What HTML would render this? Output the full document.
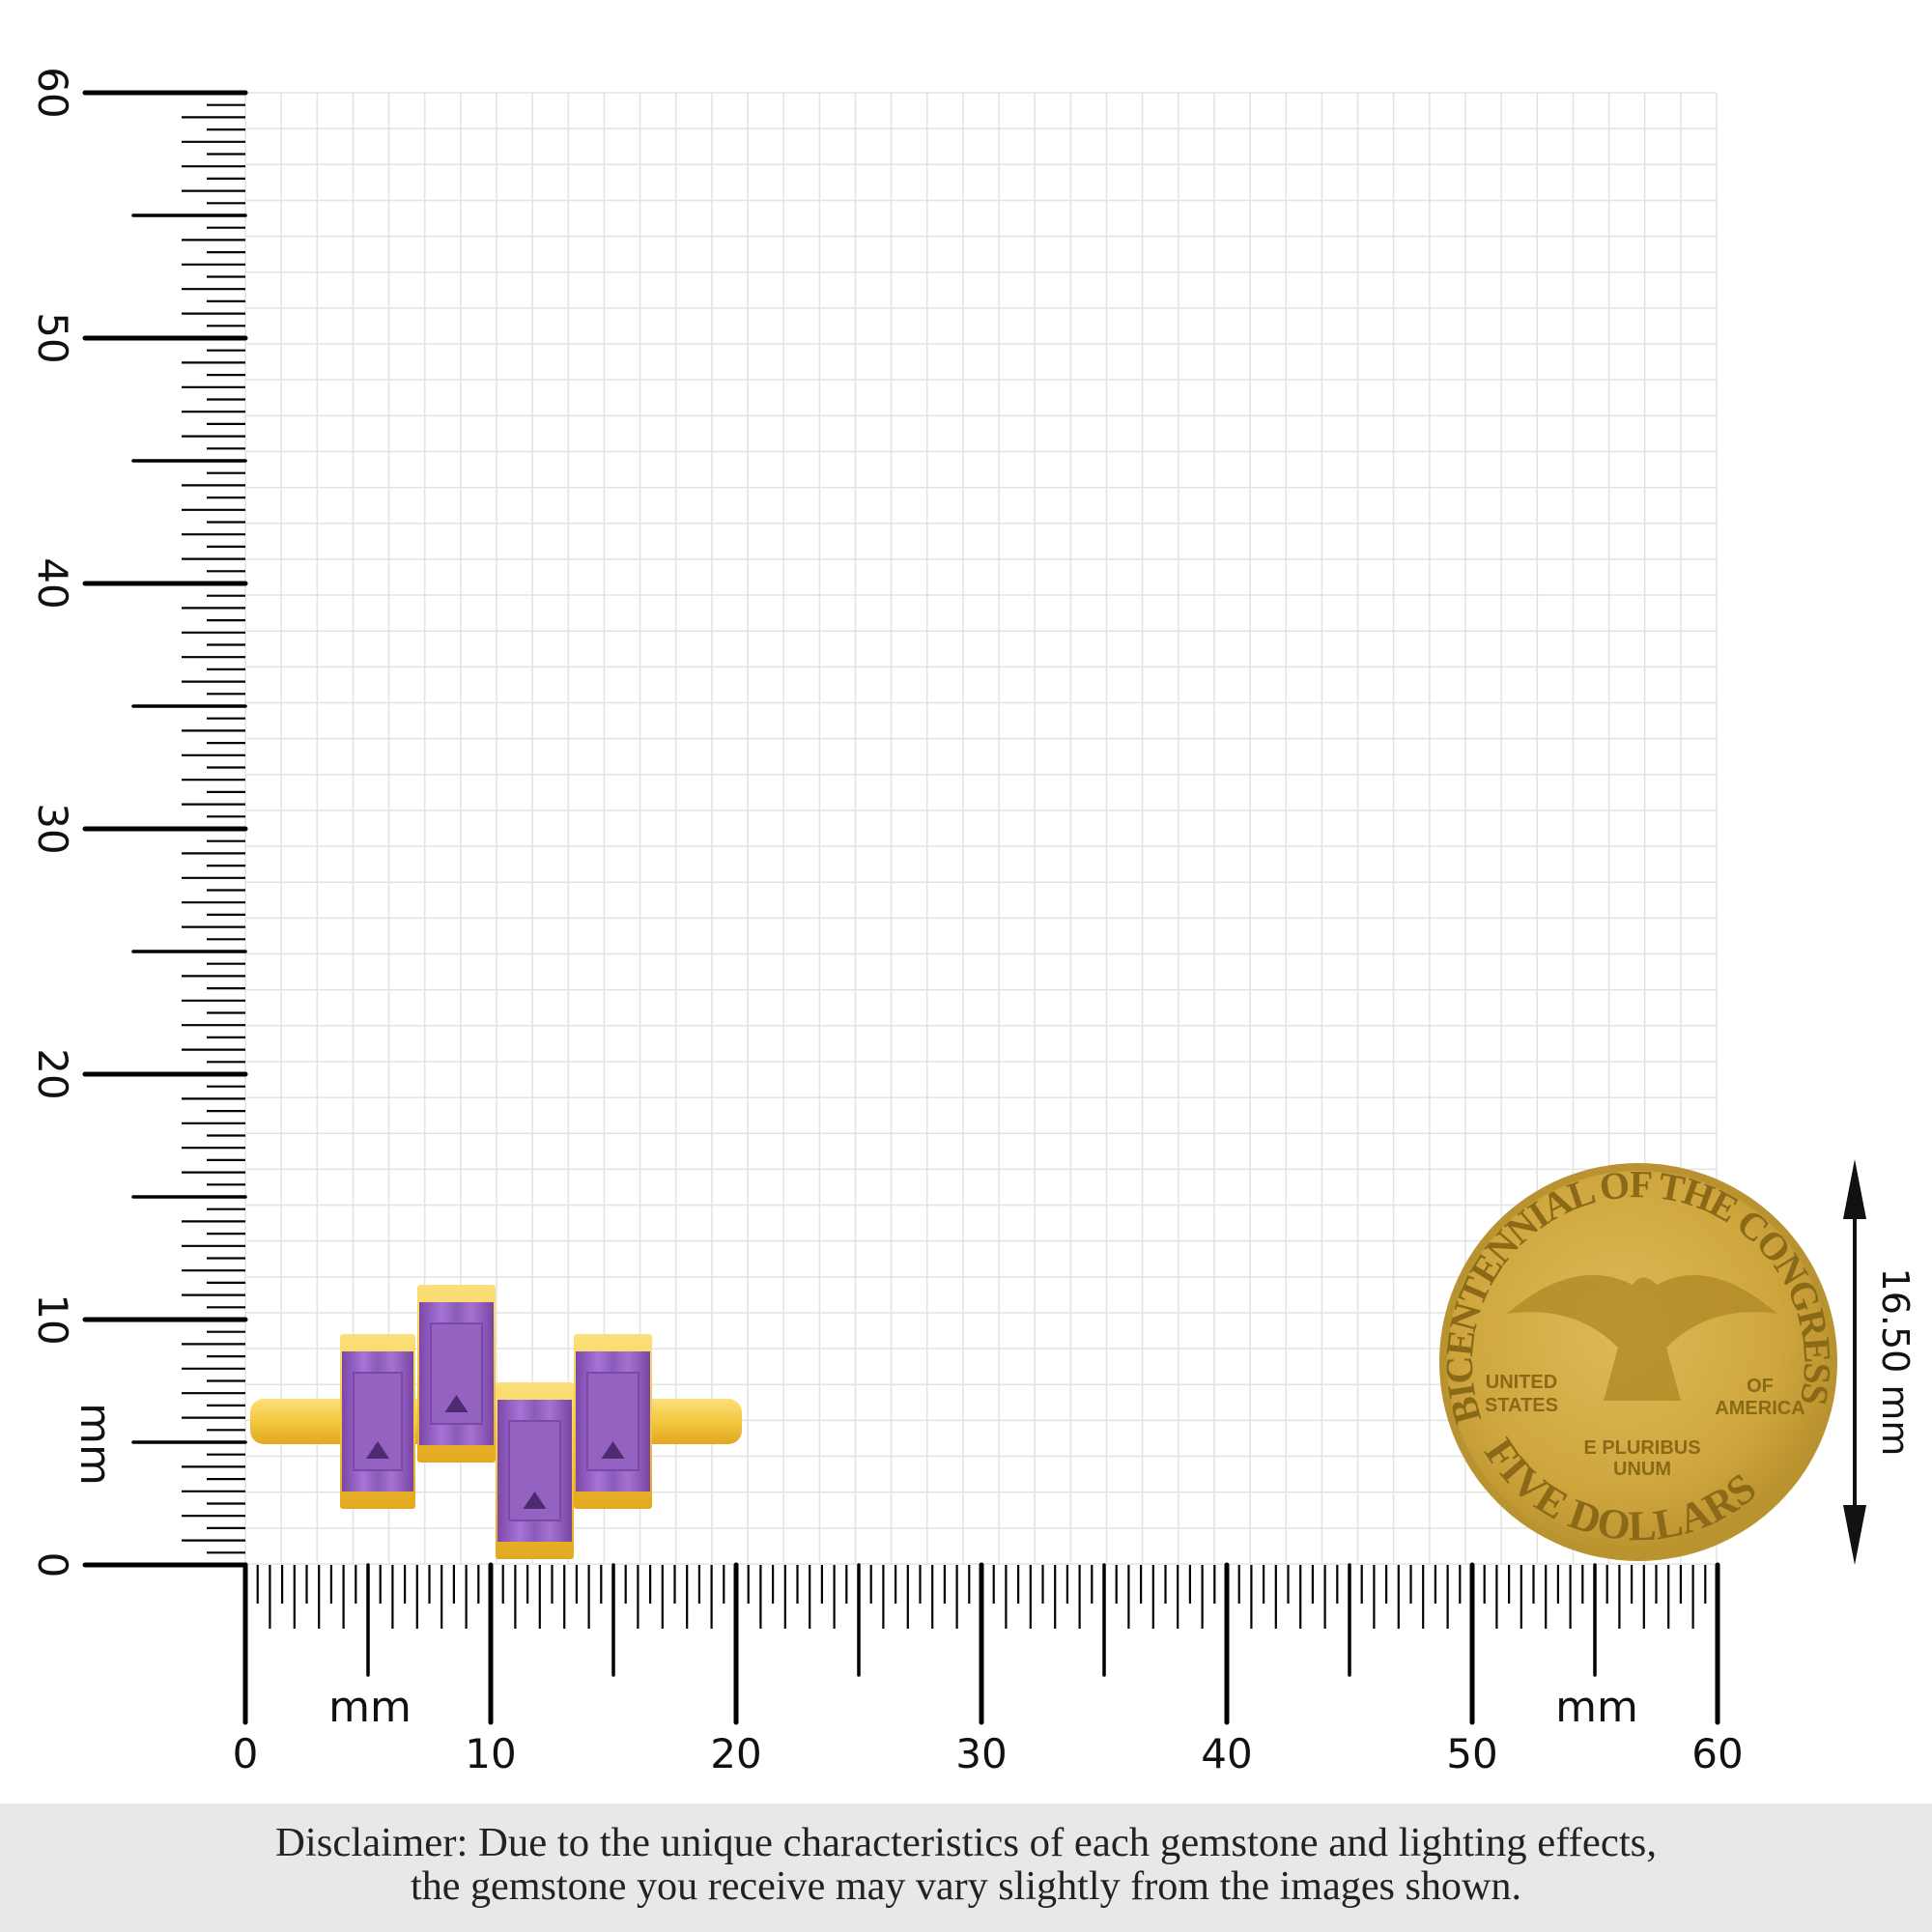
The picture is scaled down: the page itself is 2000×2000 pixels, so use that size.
<!DOCTYPE html>
<html><head><meta charset="utf-8"><style>
html,body{margin:0;padding:0;background:#fff;}
svg{display:block;}
</style></head><body>
<svg width="2000" height="2000" viewBox="0 0 2000 2000" xmlns="http://www.w3.org/2000/svg">
<defs>
<radialGradient id="coin" cx="0.45" cy="0.42" r="0.6">
<stop offset="0" stop-color="#ddb955"/><stop offset="0.7" stop-color="#cfa63e"/><stop offset="1" stop-color="#b8902c"/>
</radialGradient>
<linearGradient id="gold" x1="0" y1="0" x2="0" y2="1">
<stop offset="0" stop-color="#fbe07a"/><stop offset="0.5" stop-color="#f3c740"/><stop offset="1" stop-color="#e2a820"/>
</linearGradient>
<linearGradient id="stone" x1="0" y1="0" x2="1" y2="0">
<stop offset="0" stop-color="#7b48a8"/><stop offset="0.3" stop-color="#a774d6"/><stop offset="0.5" stop-color="#8a5bb8"/><stop offset="0.7" stop-color="#a572d2"/><stop offset="1" stop-color="#7a46a6"/>
</linearGradient>
</defs>
<g stroke="#e3e3e3" stroke-width="1.5" id="g2"></g>
<rect x="0" y="1867" width="2000" height="133" fill="#e8e8e8"/>
<text x="1000" y="1921" text-anchor="middle" font-family="Liberation Serif, serif" font-size="42" fill="#222" textLength="1430" lengthAdjust="spacingAndGlyphs">Disclaimer: Due to the unique characteristics of each gemstone and lighting effects,</text>
<text x="1000" y="1966" text-anchor="middle" font-family="Liberation Serif, serif" font-size="42" fill="#222" textLength="1150" lengthAdjust="spacingAndGlyphs">the gemstone you receive may vary slightly from the images shown.</text>
</svg>
<script>
var s=document.querySelector('svg'),ns='http://www.w3.org/2000/svg';
function el(t,a,p){var e=document.createElementNS(ns,t);for(var k in a)e.setAttribute(k,a[k]);(p||s).appendChild(e);return e;}
var g=document.getElementById('g2');
var x0=254,y0=1620,mm=25.4,cell=1523/41;
for(var i=0;i<=41;i++){var x=x0+i*cell;el('line',{x1:x,y1:96,x2:x,y2:y0},g);var y=96+i*cell;el('line',{x1:x0,y1:y,x2:1777,y2:y},g);}
for(var k=0;k<=120;k++){var v=k/2,y=y0-v*mm,x=x0+v*mm,len,w;
 if(k%20==0){len=166;w=5;}else if(k%10==0){len=116;w=3.5;}else if(k%2==0){len=66;w=2.2;}else{len=40;w=2.2;}
 el('line',{x1:x0-len,y1:y,x2:x0,y2:y,stroke:'#000','stroke-width':w,'stroke-linecap':k%10==0?'round':'butt'});
 var blen= k%20==0?163:k%10==0?114:k%2==0?66:40;
 el('line',{x1:x,y1:y0,x2:x,y2:y0+blen,stroke:'#000','stroke-width':w,'stroke-linecap':k%10==0?'round':'butt'});
}
for(var j=0;j<=6;j++){var t=el('text',{x:x0+j*254,y:1830,'text-anchor':'middle','font-family':'DejaVu Sans, sans-serif','font-size':42,fill:'#111'});t.textContent=j*10;
 var yy=y0-j*254;var t2=el('text',{transform:'translate(40,'+yy+') rotate(90)','text-anchor':'middle','font-family':'DejaVu Sans, sans-serif','font-size':42,fill:'#111'});t2.textContent=j*10;}
[[383,1782],[1653,1782]].forEach(function(p){var t=el('text',{x:p[0],y:p[1],'text-anchor':'middle','font-family':'DejaVu Sans, sans-serif','font-size':44,fill:'#111'});t.textContent='mm';});
var tm=el('text',{transform:'translate(84,1495) rotate(90)','text-anchor':'middle','font-family':'DejaVu Sans, sans-serif','font-size':44,fill:'#111'});tm.textContent='mm';
// ring band
el('rect',{x:259,y:1448,width:509,height:47,rx:14,fill:'url(#gold)'});
[[352,1381,78,181],[432,1330,81,184],[513,1431,81,183],[594,1381,81,181]].forEach(function(r){
 el('rect',{x:r[0],y:r[1],width:r[2],height:r[3],fill:'url(#gold)',rx:3});
 el('rect',{x:r[0]+2,y:r[1]+18,width:r[2]-4,height:r[3]-36,fill:'url(#stone)'});
 el('rect',{x:r[0]+14,y:r[1]+40,width:r[2]-28,height:r[3]-80,fill:'#9463c2',stroke:'#7b47a8','stroke-width':2});
 el('polygon',{points:(r[0]+r[2]/2)+','+(r[1]+r[3]-70)+' '+(r[0]+r[2]/2-12)+','+(r[1]+r[3]-52)+' '+(r[0]+r[2]/2+12)+','+(r[1]+r[3]-52),fill:'#4e2a6e'});
});
// coin
el('circle',{cx:1696,cy:1410,r:206,fill:'#b89330'});
el('circle',{cx:1696,cy:1410,r:198,fill:'url(#coin)'});
var ct=[['UNITED',1575,1437],['STATES',1575,1461],['OF',1822,1441],['AMERICA',1822,1464],['E PLURIBUS',1700,1505],['UNUM',1700,1527]];
ct.forEach(function(c){var t=el('text',{x:c[1],y:c[2],'text-anchor':'middle','font-family':'Liberation Sans, sans-serif','font-size':20,'font-weight':'bold',fill:'#8a6a18'});t.textContent=c[0];});
el('path',{id:'arcT',d:'M1534,1469 A172,172 0 1 1 1858,1469',fill:'none'});
el('path',{id:'arcB',d:'M1536,1502 A185,185 0 0 0 1856,1502',fill:'none'});
var tp=el('text',{'font-family':'Liberation Serif, serif','font-size':40,'font-weight':'bold',fill:'#8a6a18'});var tpp=el('textPath',{href:'#arcT',textLength:'640',lengthAdjust:'spacing'},tp);tpp.textContent='BICENTENNIAL OF THE CONGRESS';
var tb=el('text',{'font-family':'Liberation Serif, serif','font-size':44,'font-weight':'bold',fill:'#8a6a18'});var tbp=el('textPath',{href:'#arcB',textLength:'330',lengthAdjust:'spacing'},tb);tbp.textContent='FIVE DOLLARS';
el('path',{d:'M1560,1360 Q1630,1300 1690,1330 Q1700,1315 1715,1330 Q1770,1300 1840,1360 Q1770,1350 1725,1395 L1740,1450 L1660,1450 L1675,1395 Q1630,1350 1560,1360Z',fill:'#b28a26',opacity:'0.8'});
// arrow
el('line',{x1:1920,y1:1230,x2:1920,y2:1590,stroke:'#111','stroke-width':4});
el('polygon',{points:'1920,1200 1908,1262 1932,1262',fill:'#111'});
el('polygon',{points:'1920,1620 1908,1558 1932,1558',fill:'#111'});
var ta=el('text',{transform:'translate(1949,1410) rotate(90)','text-anchor':'middle','font-family':'DejaVu Sans, sans-serif','font-size':38,fill:'#111'});ta.textContent='16.50 mm';
</script>
</body></html>
